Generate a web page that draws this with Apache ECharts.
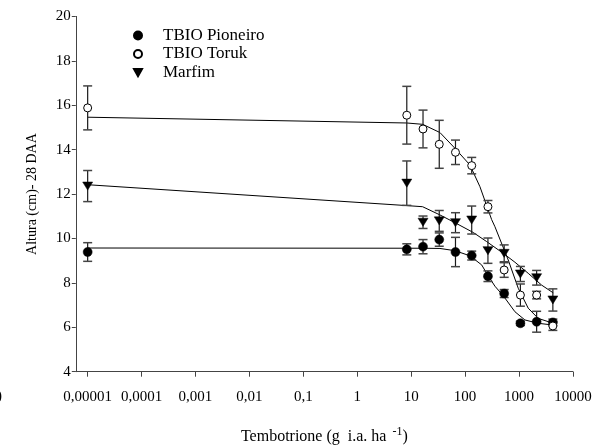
<!DOCTYPE html>
<html>
<head>
<meta charset="utf-8">
<script src="https://cdn.jsdelivr.net/npm/echarts@6/dist/echarts.min.js"></script>
<style>html,body{margin:0;padding:0;background:#fff}#c{width:599px;height:446px}</style>
</head>
<body>
<div id="c"></div>
<script>
// ---- data ----
const doses = [0.00001, 8.3, 16.6, 33.2, 66.4, 132.8, 265.6, 531.2, 1062.4, 2124.8, 4249.6];
const pioneiro = [9.39, 9.51, 9.63, 9.95, 9.39, 9.23, 8.3, 7.52, 6.18, 6.25, 6.22];
const pioneiroErr = [0.42, 0.25, 0.32, 0.3, 0.66, 0.2, 0.24, 0.18, 0.1, 0.47, 0.15];
const toruk = [15.88, 15.55, 14.93, 14.24, 13.88, 13.28, 11.43, 8.58, 7.45, 7.45, 6.06];
const torukErr = [0.99, 1.3, 0.85, 1.08, 0.55, 0.37, 0.28, 0.33, 0.5, 0.17, 0.2];
const marfim = [12.36, 12.49, 10.73, 10.79, 10.71, 10.83, 9.45, 9.33, 8.4, 8.23, 7.23];
const marfimErr = [0.7, 1.0, 0.28, 0.47, 0.45, 0.63, 0.57, 0.38, 0.34, 0.33, 0.5];

// fitted curves: [dose, height]
const torukFit = [[0.00001,15.46],[8.3,15.2],[16.3,15.14],[34.2,14.77],[64.9,14.06],[123,13.31],[188.7,12.33],[311,10.85],[358,10.53],[632,9.03],[968,7.76],[1484,6.86],[2274,6.4],[4318,6.18]];
const marfimFit = [[0.00001,12.42],[8.3,11.48],[16.3,11.43],[34.2,11.06],[64.9,10.71],[141.6,10.27],[251,9.86],[511,9.33],[841,8.93],[1484,8.43],[2630,7.9],[4318,7.55]];
const pioneiroFit = [[0.00001,9.57],[8.3,9.56],[16.3,9.56],[34.2,9.55],[64.9,9.45],[123,9.22],[203,8.81],[262,8.36],[358,7.85],[511,7.42],[841,6.7],[1288,6.33],[2274,6.18],[4318,6.1]];

const xTickValues = [-5, -4, -3, -2, -1, 0, 1, 2, 3, 4];
const xTickLabels = ['0,00001', '0,0001', '0,001', '0,01', '0,1', '1', '10', '100', '1000', '10000'];
const seriesNames = ['TBIO Pioneiro', 'TBIO Toruk', 'Marfim'];

// ---- build ----
const L = Math.log10;
const pts = (ys) => doses.map((d, i) => [L(d), ys[i]]);
const errPts = (ys, es) => doses.map((d, i) => [L(d), ys[i], es[i]]);
const fitPts = (arr) => arr.map(p => [L(p[0]), p[1]]);

const FONT = '"Liberation Serif", "Times New Roman", serif';
const downTri = 'path://M0,0 L10,0 L5,9 Z';

function errSeries(data) {
  return {
    type: 'custom',
    silent: true,
    z: 2,
    data: data,
    renderItem: function (params, api) {
      const x = api.value(0), y = api.value(1), e = api.value(2);
      const top = api.coord([x, y + e]);
      const bot = api.coord([x, y - e]);
      const w = 4.5;
      const st = { stroke: '#1a1a1a', lineWidth: 1.2 };
      const cap = { stroke: '#444', lineWidth: 1.5 };
      return {
        type: 'group',
        children: [
          { type: 'line', shape: { x1: top[0], y1: top[1], x2: bot[0], y2: bot[1] }, style: st },
          { type: 'line', shape: { x1: top[0] - w, y1: top[1], x2: top[0] + w, y2: top[1] }, style: cap },
          { type: 'line', shape: { x1: bot[0] - w, y1: bot[1], x2: bot[0] + w, y2: bot[1] }, style: cap }
        ]
      };
    }
  };
}
function fitSeries(arr) {
  return {
    type: 'line', data: fitPts(arr), showSymbol: false, silent: true, z: 1,
    lineStyle: { color: '#000', width: 1 }, smooth: false
  };
}

const chart = echarts.init(document.getElementById('c'), null, { renderer: 'canvas' });
chart.setOption({
  animation: false,
  backgroundColor: '#fff',
  textStyle: { fontFamily: FONT },
  grid: { left: 75.8, right: 26.1, top: 16.4, bottom: 74.3, containLabel: false, outerBoundsMode: 'none' },
  legend: {
    orient: 'vertical',
    left: 128, top: 21.5,
    itemWidth: 8, itemHeight: 8, itemGap: 0.5,
    data: seriesNames,
    textStyle: { fontFamily: FONT, fontSize: 17, color: '#000', lineHeight: 18, padding: [0, 0, 0, 16] }
  },
  xAxis: {
    type: 'value', min: -5.22, max: 4,
    name: '{a|Tembotrione (g  i.a. ha }{s|-1}{a|)}',
    nameLocation: 'middle', nameGap: 54,
    nameTextStyle: {
      rich: {
        a: { fontFamily: FONT, fontSize: 16, color: '#000' },
        s: { fontFamily: FONT, fontSize: 12, color: '#000', padding: [0, 0, 10, 2] }
      }
    },
    splitLine: { show: false },
    axisLine: { onZero: false, lineStyle: { color: '#444', width: 1 } },
    axisTick: { show: true, customValues: xTickValues, length: 5, inside: false, lineStyle: { color: '#444' } },
    axisLabel: {
      customValues: xTickValues, margin: 18,
      fontFamily: FONT, fontSize: 15, color: '#000',
      formatter: function (v) { const i = xTickValues.indexOf(Math.round(v)); return i >= 0 ? xTickLabels[i] : ''; }
    }
  },
  yAxis: {
    type: 'value', min: 4, max: 20, interval: 2,
    name: 'Altura (cm)- 28 DAA', nameLocation: 'middle', nameGap: 36,
    nameTextStyle: { fontFamily: FONT, fontSize: 14, color: '#000' },
    splitLine: { show: false },
    axisLine: { show: true, onZero: false, lineStyle: { color: '#444', width: 1 } },
    axisTick: { show: true, length: 4, lineStyle: { color: '#444' } },
    axisLabel: { margin: 5, fontFamily: FONT, fontSize: 15, color: '#000' }
  },
  graphic: [
    { type: 'text', left: -3, top: 389, style: { text: ')', font: '15px ' + FONT, fill: '#000' } }
  ],
  series: [
    fitSeries(pioneiroFit), fitSeries(torukFit), fitSeries(marfimFit),
    errSeries(errPts(pioneiro, pioneiroErr)),
    errSeries(errPts(toruk, torukErr)),
    errSeries(errPts(marfim, marfimErr)),
    { name: seriesNames[0], type: 'scatter', data: pts(pioneiro), symbol: 'circle', symbolSize: 9, z: 5,
      itemStyle: { color: '#000', borderColor: '#000', borderWidth: 0.5, opacity: 1 } },
    { name: seriesNames[1], type: 'scatter', data: pts(toruk), symbol: 'circle', symbolSize: 8, z: 5,
      itemStyle: { color: '#fff', borderColor: '#000', borderWidth: 1, opacity: 1 } },
    { name: seriesNames[2], type: 'scatter', data: pts(marfim), symbol: downTri, symbolSize: [10, 9], symbolKeepAspect: true, z: 5,
      itemStyle: { color: '#000', borderColor: '#000', borderWidth: 0.5, opacity: 1 } }
  ]
});
</script>
</body>
</html>
